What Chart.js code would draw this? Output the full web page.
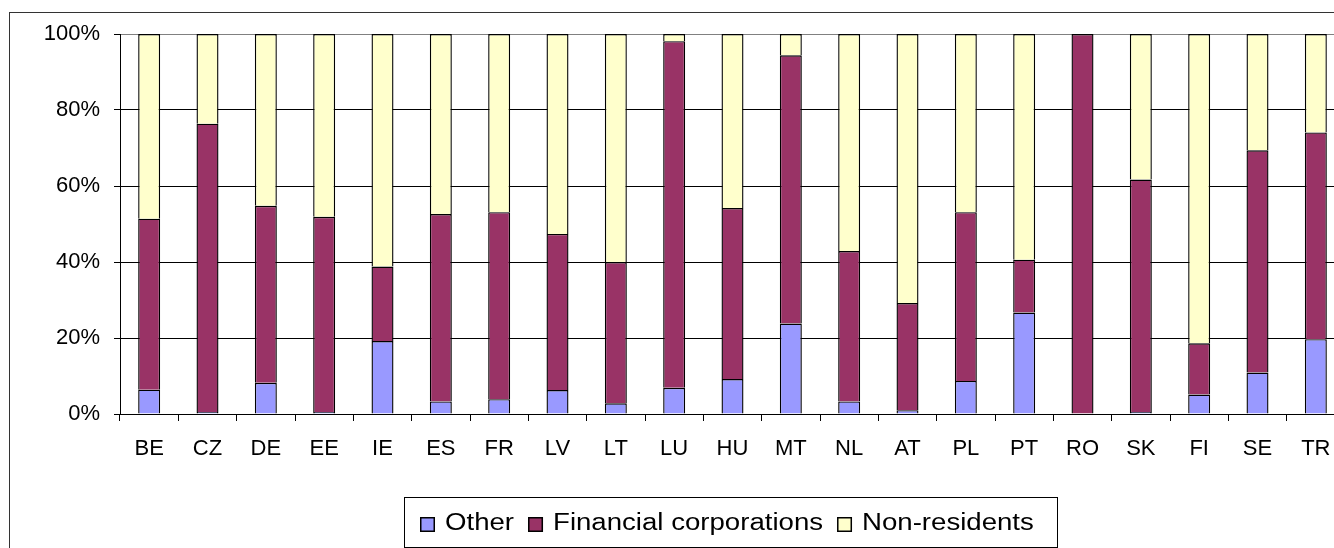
<!DOCTYPE html>
<html>
<head>
<meta charset="utf-8">
<script src="https://cdn.jsdelivr.net/npm/chart.js@4/dist/chart.umd.min.js"></script>
<style>
  html, body { margin: 0; padding: 0; overflow: hidden; background: #fff; }
  #wrap { width: 1360px; height: 548px; }
</style>
</head>
<body>
<div id="wrap"><canvas id="c" width="1360" height="548"></canvas></div>
<script>
const categories = ['BE','CZ','DE','EE','IE','ES','FR','LV','LT','LU','HU','MT','NL','AT','PL','PT','RO','SK','FI','SE','TR'];
const other = [6.4, 0.5, 8.2, 0.5, 19.2, 3.3, 3.9, 6.3, 2.8, 6.9, 9.2, 23.8, 3.3, 1.0, 8.7, 26.7, 0, 0.5, 5.1, 10.9, 19.7];
const financial = [45.0, 75.9, 46.6, 51.4, 19.6, 49.3, 49.2, 41.1, 37.2, 91.2, 45.0, 70.6, 39.6, 28.2, 44.4, 13.9, 100, 61.2, 13.5, 58.5, 54.4];
const nonResidents = [48.6, 23.6, 45.2, 48.1, 61.2, 47.4, 46.9, 52.6, 60.0, 1.9, 45.8, 5.6, 57.1, 70.8, 46.9, 59.4, 0, 38.3, 81.4, 30.6, 25.9];
const yTicks = [0, 20, 40, 60, 80, 100];
const seriesNames = ['Other', 'Financial corporations', 'Non-residents'];

const FONT = '"Liberation Sans", Arial, sans-serif';

const frame = {
  id: 'frame',
  beforeDraw(chart) {
    const ctx = chart.ctx;
    ctx.save();
    ctx.fillStyle = '#fff';
    ctx.fillRect(0, 0, chart.width, chart.height);
    ctx.restore();
  },
  afterDraw(chart) {
    const ctx = chart.ctx;
    ctx.save();
    ctx.strokeStyle = '#333';
    ctx.lineWidth = 1;
    ctx.strokeRect(9.5, 12.5, chart.width + 20, chart.height + 20);
    const ds = chart.data.datasets;
    const sx = 1.2;
    ctx.font = '23px ' + FONT;
    const sq = 15, gapText = 10, gapItem = 14;
    let total = 0;
    const widths = ds.map(d => ctx.measureText(d.label).width * sx);
    widths.forEach((w, i) => { total += sq + gapText + w + (i < ds.length - 1 ? gapItem : 0); });
    const boxL = 404, boxR = 1057, boxT = 497, boxB = 547;
    ctx.strokeStyle = '#000';
    ctx.lineWidth = 1;
    ctx.strokeRect(boxL + 0.5, boxT + 0.5, boxR - boxL, boxB - boxT);
    let x = Math.round((boxL + boxR) / 2 - total / 2) - 4;
    const sqTop = 517;
    ds.forEach((d, i) => {
      ctx.fillStyle = d.backgroundColor;
      ctx.fillRect(x, sqTop, sq, sq);
      ctx.strokeStyle = '#000';
      ctx.lineWidth = 1.5;
      ctx.strokeRect(x + 0.75, sqTop + 0.75, sq - 1.5, sq - 1.5);
      ctx.fillStyle = '#000';
      ctx.textBaseline = 'alphabetic';
      ctx.textAlign = 'left';
      ctx.save();
      ctx.translate(x + sq + gapText, 530);
      ctx.scale(sx, 1);
      ctx.fillText(d.label, 0, 0);
      ctx.restore();
      x += sq + gapText + widths[i] + gapItem;
    });
    ctx.restore();
  }
};

const common = { borderColor: '#000', borderWidth: 1.4, barPercentage: 0.377, categoryPercentage: 1.0 };

new Chart(document.getElementById('c'), {
  type: 'bar',
  data: {
    labels: categories,
    datasets: [
      Object.assign({ label: seriesNames[0], data: other, backgroundColor: '#9999FF' }, common),
      Object.assign({ label: seriesNames[1], data: financial, backgroundColor: '#993366' }, common),
      Object.assign({ label: seriesNames[2], data: nonResidents, backgroundColor: '#FFFFCC' }, common)
    ]
  },
  options: {
    responsive: false,
    animation: false,
    devicePixelRatio: 1,
    layout: { padding: { left: 0, top: 34, right: 15, bottom: 84 } },
    plugins: { legend: { display: false }, tooltip: { enabled: false } },
    scales: {
      x: {
        stacked: true,
        offset: true,
        grid: { offset: true, drawOnChartArea: false, drawTicks: true, tickLength: 7, tickColor: '#000', lineWidth: 1 },
        border: { color: '#000', width: 1 },
        ticks: { color: '#000', font: { family: FONT, size: 22 }, padding: 15, maxRotation: 0, autoSkip: false },
        afterFit(scale) { scale.height = 50; }
      },
      y: {
        stacked: true,
        min: 0, max: 100,
        afterBuildTicks(scale) { scale.ticks = yTicks.map(v => ({ value: v })); },
        grid: {
          color: ctx => (ctx.tick && ctx.tick.value === 100) ? '#808080' : '#000',
          lineWidth: 1, tickLength: 6, tickColor: '#000', drawTicks: true
        },
        border: { color: '#000', width: 1 },
        ticks: { color: '#000', font: { family: FONT, size: 22 }, padding: 14, callback: v => v + '%' },
        afterFit(scale) { scale.width = 120; }
      }
    }
  },
  plugins: [frame]
});
</script>
</body>
</html>
